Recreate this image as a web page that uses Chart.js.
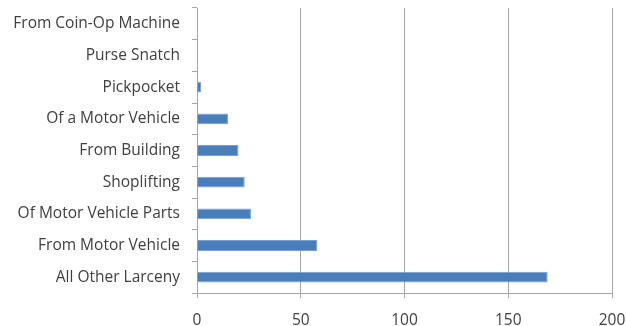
<!DOCTYPE html>
<html>
<head>
<meta charset="utf-8">
<script src="https://cdn.jsdelivr.net/npm/chart.js@4/dist/chart.umd.min.js"></script>
<style>
  html, body { margin: 0; padding: 0; background: #ffffff; }
  #chart { display: block; }
</style>
</head>
<body>
<canvas id="chart" width="626" height="326"></canvas>
<script>
// Larceny offences by type
const categories = [
  "From Coin-Op Machine",
  "Purse Snatch",
  "Pickpocket",
  "Of a Motor Vehicle",
  "From Building",
  "Shoplifting",
  "Of Motor Vehicle Parts",
  "From Motor Vehicle",
  "All Other Larceny"
];
const counts = [0, 0, 2, 15, 20, 23, 26, 58, 169];
const xTicks = [0, 50, 100, 150, 200];

const labelFont = { family: "'Open Sans', 'Liberation Sans', sans-serif", size: 15.5 };

new Chart(document.getElementById("chart"), {
  type: "bar",
  data: {
    labels: categories,
    datasets: [{
      data: counts,
      backgroundColor: "#4a7ebb",
      borderColor: "#7aa0cf",
      borderWidth: 1,
      categoryPercentage: 1.0,
      barPercentage: 0.34
    }]
  },
  options: {
    indexAxis: "y",
    responsive: false,
    animation: false,
    layout: { padding: { top: 8, right: 14, bottom: 0, left: 0 } },
    plugins: {
      legend: { display: false },
      tooltip: { enabled: false }
    },
    scales: {
      x: {
        min: 0,
        max: 200,
        afterBuildTicks: (scale) => { scale.ticks = xTicks.map(v => ({ value: v })); },
        // fixed band for the value labels; let the end labels overhang
        afterFit: (scale) => {
          scale.height = 33;
          scale.paddingLeft = 0;
          scale.paddingRight = 0;
        },
        grid: {
          color: "#a6a6a6",
          lineWidth: 1,
          drawTicks: true,
          tickLength: 5,
          tickColor: "#a6a6a6"
        },
        border: { display: true, color: "#a6a6a6" },
        ticks: {
          color: "#404040",
          font: labelFont,
          padding: 13,
          maxRotation: 0
        }
      },
      y: {
        offset: true,
        afterFit: (scale) => {
          scale.width = 197;
          scale.paddingTop = 0;
          scale.paddingBottom = 0;
        },
        grid: {
          offset: true,
          drawOnChartArea: false,
          drawTicks: true,
          tickLength: 5,
          color: "#a6a6a6",
          tickColor: "#a6a6a6"
        },
        border: { display: true, color: "#a6a6a6" },
        ticks: {
          color: "#404040",
          font: labelFont,
          padding: 12,
          autoSkip: false
        }
      }
    }
  }
});
</script>
</body>
</html>
